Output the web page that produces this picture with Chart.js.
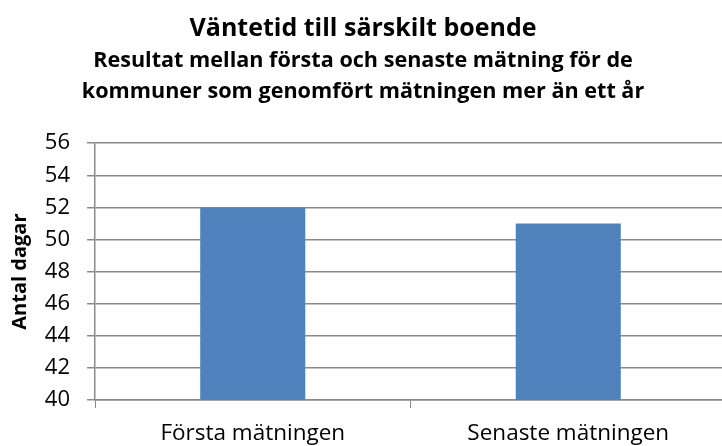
<!DOCTYPE html>
<html>
<head>
<meta charset="utf-8">
<script src="https://cdn.jsdelivr.net/npm/chart.js@4"></script>
<style>
  html, body { margin: 0; padding: 0; background: #fff; overflow: hidden; }
  #wrap { width: 726px; height: 446px; }
</style>
</head>
<body>
<div id="wrap"><canvas id="chart"></canvas></div>
<script>
'use strict';

// ── Data ──────────────────────────────────────────────
const CATEGORIES = ['Första mätningen', 'Senaste mätningen'];
const VALUES     = [52, 51];
const Y_MIN = 40, Y_MAX = 56, Y_STEP = 2;

const TITLE    = 'Väntetid till särskilt boende';
const SUBTITLE = ['Resultat mellan första och senaste mätning för de',
                  'kommuner som genomfört mätningen mer än ett år'];
const Y_LABEL  = 'Antal dagar';

// ── Style ─────────────────────────────────────────────
const FONT      = "'Open Sans', sans-serif";
const BAR_COLOR = '#4f81bd';
const GRID      = '#8a8a8a';

new Chart(document.getElementById('chart'), {
  type: 'bar',
  data: {
    labels: CATEGORIES,
    datasets: [{
      data: VALUES,
      backgroundColor: BAR_COLOR,
      borderWidth: 0,
      categoryPercentage: 1,
      barPercentage: 0.333
    }]
  },
  options: {
    responsive: true,
    maintainAspectRatio: false,
    animation: false,
    layout: {
      autoPadding: false,
      padding: { top: 14, left: 0, right: 0, bottom: 0 }
    },
    plugins: {
      legend: { display: false },
      tooltip: { enabled: false },
      title: {
        display: true,
        text: TITLE,
        color: '#000',
        font: { family: FONT, size: 25, weight: 'bold', lineHeight: 1.2 },
        padding: { top: 0, bottom: 1 }
      },
      subtitle: {
        display: true,
        text: SUBTITLE,
        color: '#000',
        font: { family: FONT, size: 21.6, weight: 'bold', lineHeight: 1.44 },
        padding: { top: 0, bottom: 36 }
      }
    },
    scales: {
      x: {
        afterFit: s => { s.height = 46; },
        grid: {
          display: true,
          offset: true,
          drawOnChartArea: false,
          drawTicks: true,
          tickLength: 8,
          color: GRID,
          lineWidth: 1
        },
        border: { display: true, color: GRID, width: 1.5 },
        ticks: { color: '#000', font: { family: FONT, size: 22.5 }, padding: 12 }
      },
      y: {
        min: Y_MIN,
        max: Y_MAX,
        afterFit: s => { s.width = 95; },
        ticks: {
          stepSize: Y_STEP,
          color: '#000',
          font: { family: FONT, size: 22 },
          padding: 17
        },
        grid: {
          color: GRID,
          lineWidth: 1.5,
          tickLength: 8,
          drawTicks: true
        },
        border: { display: true, color: GRID, width: 1.5 },
        title: {
          display: true,
          text: Y_LABEL,
          color: '#000',
          font: { family: FONT, size: 20, weight: 'bold' },
          padding: { top: 8, bottom: 12 }
        }
      }
    }
  }
});
</script>
</body>
</html>
